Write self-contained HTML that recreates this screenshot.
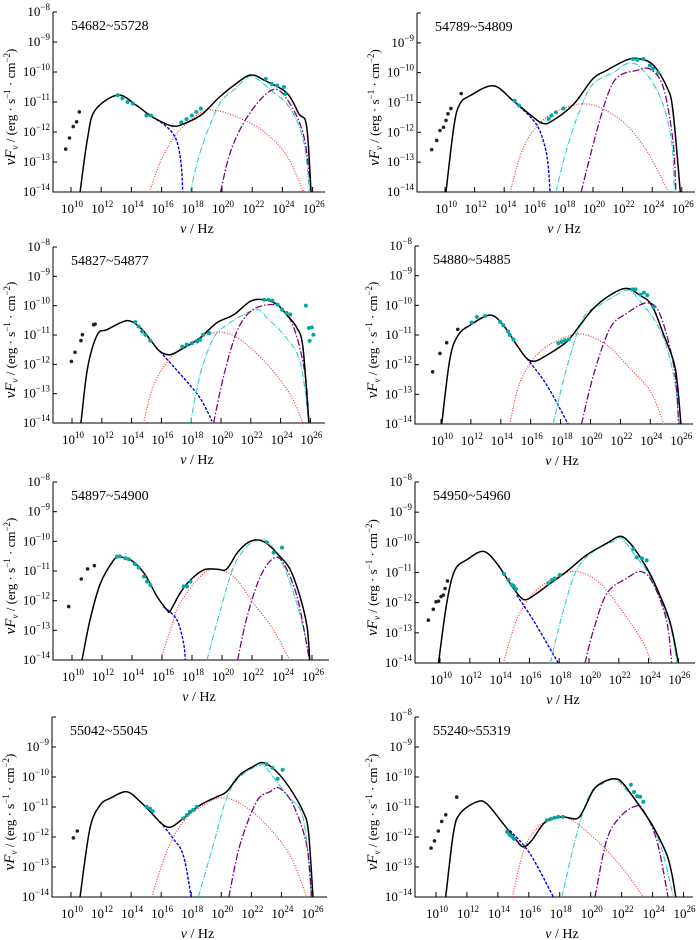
<!DOCTYPE html>
<html><head><meta charset="utf-8">
<style>
html,body{margin:0;padding:0;background:#fff;}
svg{display:block;font-family:"Liberation Serif",serif;}
</style></head>
<body>
<svg id="fig" width="700" height="940" viewBox="0 0 700 940" xmlns="http://www.w3.org/2000/svg"></svg>
<script>
// ---------- data (log10 nu, log10 nuFnu) ----------
const titles = ["54682~55728","54789~54809","54827~54877","54880~54885","54897~54900","54950~54960","55042~55045","55240~55319"];
const yTicks = [-8,-9,-10,-11,-12,-13,-14];
const xTicks = [10,12,14,16,18,20,22,24,26];

const p1Total=[[10.6,-14],[11.1,-12.2],[11.6,-11.27],[13.1,-10.77],[14.3,-11.1],[15.4,-11.5],[16.7,-11.8],[17.6,-11.7],[18.7,-11.4],[19.8,-10.85],[20.9,-10.4],[21.9,-10.1],[22.9,-10.3],[24.3,-10.7],[25.1,-11.4],[25.6,-11.8],[25.9,-14]];
const p1Blue=[[15.4,-11.5],[16.4,-11.85],[17.0,-12.3],[17.3,-13.1],[17.4,-14]];
const p1Red=[[15.2,-14],[16.0,-12.9],[17.1,-12.0],[18.6,-11.35],[19.5,-11.27],[21,-11.5],[22.8,-12.0],[24.3,-12.8],[25.4,-14]];
const p1Cyan=[[17.9,-14],[18.6,-12.6],[19.8,-11.1],[20.9,-10.55],[21.9,-10.15],[23.1,-10.55],[24.5,-11.2],[25.4,-12.3],[25.8,-14]];
const p1Purple=[[19.9,-14],[20.6,-12.6],[21.8,-11.4],[23.3,-10.6],[24.3,-10.9],[25.4,-12.1],[25.9,-14]];
const p1Radio=[[9.65,-12.57],[9.9,-12.2],[10.15,-11.82],[10.37,-11.66],[10.55,-11.33]];
const p1Obs=[[13.1,-10.77],[13.4,-10.88],[13.75,-11.0],[14.1,-11.05],[15.0,-11.45],[15.3,-11.45],[17.3,-11.68],[17.65,-11.57],[18.0,-11.45],[18.3,-11.33],[18.6,-11.22],[22.9,-10.23],[23.3,-10.4],[23.65,-10.45],[24.1,-10.5],[24.2,-10.73]];

const p2Total=[[10.07,-14],[10.6,-11.8],[11.0,-11.05],[11.7,-10.77],[13.27,-10.44],[14.6,-10.94],[15.7,-11.39],[16.6,-11.7],[17.3,-11.6],[18.7,-11.05],[20.0,-10.2],[20.9,-9.93],[22.3,-9.57],[23.2,-9.54],[24.1,-9.76],[25.0,-10.49],[25.4,-11.27],[25.9,-14]];
const p2Blue=[[14.6,-10.94],[15.7,-11.45],[16.4,-11.94],[16.9,-12.83],[17.1,-14]];
const p2Red=[[14.4,-14],[15.3,-12.5],[16.6,-11.6],[18.2,-11.16],[19.6,-11.05],[20.9,-11.27],[22.3,-11.77],[23.6,-12.6],[24.5,-13.4],[25.1,-14]];
const p2Cyan=[[17.5,-14],[18.2,-12.6],[19.1,-11.27],[20.0,-10.38],[21.4,-9.99],[22.3,-9.7],[23.2,-9.82],[24.5,-10.77],[25.3,-12.27],[25.5,-14]];
const p2Purple=[[19.2,-14],[20.2,-12.05],[21.1,-10.6],[21.8,-10.1],[22.9,-9.93],[23.85,-9.88],[24.75,-10.49],[25.4,-12.27],[25.6,-14]];
const p2Radio=[[9.1,-12.58],[9.44,-12.27],[9.66,-11.94],[9.9,-11.83],[10.07,-11.6],[10.2,-11.38],[10.4,-11.2],[11.1,-10.7]];
const p2Obs=[[14.7,-10.94],[15.0,-11.1],[17.0,-11.55],[17.2,-11.44],[17.5,-11.33],[18.0,-11.2],[22.7,-9.54],[23.0,-9.57],[23.4,-9.54],[23.85,-9.76],[24.05,-9.87],[24.4,-10.0]];

const p3Total=[[10.6,-14],[11.05,-12.12],[11.7,-10.99],[12.35,-10.82],[13.7,-10.51],[14.6,-10.76],[15.25,-11.16],[15.9,-11.56],[16.6,-11.67],[17.5,-11.44],[18.6,-11.1],[19.7,-10.59],[20.85,-10.31],[21.97,-9.85],[22.9,-9.8],[23.8,-9.97],[24.4,-10.31],[25.1,-10.76],[25.5,-11.44],[25.9,-14]];
const p3Blue=[[15.9,-11.56],[17.5,-12.47],[18.6,-13.15],[19.4,-13.94]];
const p3Red=[[14.8,-14],[15.5,-12.69],[16.8,-11.67],[18.6,-11.1],[19.95,-10.9],[21.3,-11.16],[23.1,-12.0],[24.65,-13.03],[25.5,-14]];
const p3Cyan=[[17.95,-14],[18.6,-12.35],[19.5,-11.1],[20.4,-10.65],[21.5,-10.31],[22.5,-10.14],[23.1,-10.42],[24.2,-10.99],[25.3,-11.9],[25.9,-14]];
const p3Purple=[[19.5,-14],[20.2,-12.35],[21.07,-10.88],[21.97,-10.2],[23.1,-9.97],[24.0,-10.08],[24.9,-10.76],[25.65,-12.35],[25.9,-14]];
const p3Radio=[[9.96,-11.9],[10.2,-11.59],[10.6,-11.19],[10.7,-10.99],[11.45,-10.65],[11.55,-10.63]];
const p3Obs=[[14.25,-10.56],[14.47,-10.71],[14.7,-10.88],[14.92,-10.99],[15.25,-11.19],[17.4,-11.39],[17.7,-11.33],[18.05,-11.28],[18.4,-11.22],[18.6,-11.16],[18.8,-10.99],[19.2,-10.93],[22.9,-9.8],[23.2,-9.8],[23.45,-9.83],[23.8,-9.97],[24.1,-10.14],[24.4,-10.25],[24.65,-10.3],[25.7,-10.0],[25.9,-10.76],[26.1,-10.74],[26.2,-10.99],[25.95,-11.2]];

const p4Total=[[10.05,-14],[10.6,-11.79],[11.16,-11.0],[11.94,-10.67],[13.28,-10.33],[14.17,-10.67],[15.07,-11.34],[15.74,-11.79],[16.3,-11.88],[17.08,-11.68],[18.4,-11.23],[19.3,-10.67],[20.2,-10.1],[21.3,-9.66],[22.4,-9.43],[23.3,-9.66],[24.1,-10.0],[24.9,-11.0],[25.67,-12.13],[26.05,-14]];
const p4Blue=[[15.74,-11.79],[17.08,-12.69],[18.5,-14]];
const p4Red=[[14.6,-14],[15.3,-12.57],[16.63,-11.56],[18.4,-11.06],[19.53,-10.98],[21.1,-11.34],[22.4,-12.0],[24.0,-12.9],[24.9,-14]];
const p4Cyan=[[17.5,-14],[18.4,-12.13],[19.5,-10.44],[20.6,-10.0],[21.7,-9.66],[22.4,-9.49],[23.0,-9.66],[24.67,-10.84],[25.6,-12.46],[25.9,-14]];
const p4Purple=[[19.4,-14],[20.2,-12.35],[21.3,-10.78],[22.4,-10.28],[23.77,-9.92],[24.67,-10.33],[25.6,-12.13],[25.9,-14]];
const p4Radio=[[9.44,-12.24],[9.93,-11.62],[10.38,-11.26],[11.12,-10.81]];
const p4Obs=[[12.05,-10.58],[12.4,-10.39],[12.95,-10.36],[13.96,-10.56],[14.17,-10.67],[14.5,-10.89],[14.6,-11.0],[14.85,-11.15],[17.85,-11.28],[18.07,-11.23],[18.3,-11.18],[18.55,-11.15],[22.8,-9.46],[23.0,-9.46],[23.35,-9.64],[23.57,-9.57],[23.8,-9.66],[24.2,-10.05]];

const p5Total=[[10.67,-14],[11.2,-12.65],[11.9,-11.41],[12.8,-10.62],[13.2,-10.53],[13.9,-10.62],[14.8,-11.07],[15.67,-11.86],[16.33,-12.31],[16.55,-12.34],[17.2,-11.75],[17.9,-11.3],[18.8,-10.96],[19.67,-10.94],[20.3,-10.94],[21.0,-10.4],[21.67,-10.06],[22.3,-9.95],[23.0,-10.08],[23.9,-10.53],[24.55,-10.96],[25.2,-11.86],[25.67,-12.88],[25.85,-14]];
const p5Blue=[[16.1,-12.2],[17.0,-12.65],[17.44,-13.44],[17.55,-14]];
const p5Red=[[15.9,-14],[16.55,-12.99],[17.2,-12.09],[18.55,-11.19],[19.45,-10.94],[20.78,-11.19],[22.1,-12.09],[23.44,-12.99],[24.5,-14]];
const p5Cyan=[[19.0,-14],[19.9,-12.31],[20.78,-10.85],[21.67,-10.17],[22.3,-9.97],[23.0,-10.0],[23.9,-10.62],[24.78,-11.75],[25.56,-13.21],[25.78,-14]];
const p5Purple=[[21.04,-14],[21.67,-12.54],[22.55,-11.19],[23.44,-10.57],[24.1,-10.74],[25.0,-11.86],[25.67,-13.55],[25.8,-14]];
const p5Radio=[[9.78,-12.2],[10.62,-11.27],[11.04,-10.93],[11.49,-10.82]];
const p5Obs=[[13.0,-10.51],[13.2,-10.51],[13.55,-10.57],[13.78,-10.6],[14.2,-10.77],[14.44,-10.88],[14.8,-11.19],[15.0,-11.36],[15.22,-11.47],[17.44,-11.52],[17.67,-11.52],[17.9,-11.36],[23.0,-10.04],[23.44,-10.38],[24.0,-10.21]];

const p6Total=[[9.9,-14],[10.45,-12.02],[11.0,-10.92],[11.8,-10.58],[12.9,-10.3],[13.8,-10.69],[14.7,-11.36],[15.37,-11.8],[15.8,-11.9],[16.5,-11.69],[17.4,-11.36],[18.5,-10.97],[19.84,-10.42],[21.2,-10.03],[22.1,-9.8],[22.75,-10.03],[23.4,-10.47],[24.3,-11.25],[25.4,-12.58],[26.0,-14]];
const p6Blue=[[15.15,-11.75],[16.26,-12.58],[17.94,-14]];
const p6Red=[[14.25,-14],[15.15,-12.58],[16.26,-11.69],[17.83,-11.14],[19.17,-10.97],[20.74,-11.36],[22.5,-12.47],[23.65,-13.35],[24.2,-14]];
const p6Cyan=[[17.4,-14],[18.28,-12.25],[19.17,-10.92],[20.3,-10.3],[21.63,-9.97],[22.2,-9.86],[22.97,-10.36],[24.1,-11.14],[25.4,-12.69],[25.9,-14]];
const p6Purple=[[19.73,-14],[20.3,-12.91],[21.2,-11.69],[22.53,-11.19],[23.5,-10.97],[24.3,-11.36],[25.2,-12.58],[25.55,-14]];
const p6Radio=[[9.22,-12.58],[9.55,-12.22],[9.73,-11.97],[9.9,-11.95],[10.07,-11.8],[10.22,-11.75],[10.34,-11.53],[10.5,-11.28]];
const p6Obs=[[14.3,-11.05],[14.6,-11.25],[14.8,-11.4],[14.95,-11.45],[15.1,-11.55],[17.27,-11.36],[17.5,-11.25],[17.7,-11.2],[18.05,-11.08],[22.97,-10.22],[23.2,-10.5],[23.55,-10.53],[23.87,-10.6]];

const p7Total=[[10.6,-14],[11.26,-11.72],[11.93,-10.94],[12.6,-10.71],[13.7,-10.49],[14.6,-10.82],[15.48,-11.27],[16.14,-11.6],[16.7,-11.66],[17.47,-11.38],[18.58,-10.94],[19.7,-10.66],[20.35,-10.49],[21.24,-9.93],[22.13,-9.65],[22.8,-9.52],[23.68,-9.82],[24.57,-10.38],[25.45,-11.16],[25.8,-11.83],[26.1,-14]];
const p7Blue=[[15.92,-11.49],[16.8,-12.05],[17.47,-12.61],[18.0,-14]];
const p7Red=[[15.37,-14],[16.36,-12.5],[17.47,-11.49],[19.0,-10.88],[20.13,-10.69],[21.46,-10.94],[23.0,-11.6],[24.57,-12.61],[25.68,-14]];
const p7Cyan=[[18.47,-14],[19.47,-12.27],[20.35,-10.71],[21.24,-9.99],[22.57,-9.6],[23.0,-9.71],[24.35,-10.6],[25.45,-11.38],[26.0,-14]];
const p7Purple=[[20.5,-14],[21.24,-12.27],[22.35,-10.82],[23.24,-10.49],[23.9,-10.38],[24.79,-10.94],[25.68,-12.27],[26.0,-14]];
const p7Radio=[[10.16,-12.03],[10.42,-11.8]];
const p7Obs=[[15.03,-10.99],[15.25,-11.05],[15.43,-11.14],[17.47,-11.38],[17.7,-11.27],[17.9,-11.16],[18.13,-11.1],[18.36,-10.99],[23.0,-9.57],[23.4,-9.69],[23.75,-10.06],[24.08,-9.76]];

const p8Total=[[10.63,-14],[11.12,-11.89],[11.55,-11.22],[12.63,-10.83],[13.28,-10.89],[14.35,-11.56],[15.2,-12.11],[15.65,-12.33],[16.2,-12.11],[16.94,-11.56],[17.59,-11.39],[18.23,-11.33],[19.1,-11.39],[19.53,-11.11],[20.17,-10.44],[20.8,-10.17],[21.57,-10.06],[22.1,-10.22],[23.2,-11.0],[24.05,-11.67],[24.9,-12.56],[25.24,-13.22],[25.5,-14]];
const p8Blue=[[14.78,-11.78],[16.08,-12.56],[17.59,-14]];
const p8Red=[[14.94,-14],[15.54,-12.67],[16.08,-12.0],[17.16,-11.44],[18.45,-11.36],[19.53,-11.72],[21.03,-12.44],[22.33,-13.22],[23.4,-14]];
const p8Cyan=[[18.13,-14],[19.1,-11.89],[19.96,-10.56],[20.8,-10.22],[21.57,-10.08],[22.33,-10.44],[23.4,-11.11],[24.48,-12.22],[25.35,-14]];
const p8Purple=[[20.28,-14],[21.03,-12.11],[21.9,-11.33],[22.87,-10.98],[23.4,-11.11],[24.27,-12.11],[25.0,-14]];
const p8Radio=[[9.68,-12.37],[9.9,-12.13],[10.15,-11.8],[10.37,-11.48],[10.63,-11.26],[11.34,-10.67]];
const p8Obs=[[14.6,-11.83],[14.75,-11.93],[14.9,-11.98],[15.04,-12.06],[17.16,-11.44],[17.4,-11.4],[17.65,-11.36],[17.9,-11.33],[18.2,-11.33],[22.6,-10.26],[22.8,-10.5],[23.0,-10.64],[23.2,-10.66],[23.4,-10.83]];

const totals=[p1Total,p2Total,p3Total,p4Total,p5Total,p6Total,p7Total,p8Total];
const blues=[p1Blue,p2Blue,p3Blue,p4Blue,p5Blue,p6Blue,p7Blue,p8Blue];
const reds=[p1Red,p2Red,p3Red,p4Red,p5Red,p6Red,p7Red,p8Red];
const cyans=[p1Cyan,p2Cyan,p3Cyan,p4Cyan,p5Cyan,p6Cyan,p7Cyan,p8Cyan];
const purples=[p1Purple,p2Purple,p3Purple,p4Purple,p5Purple,p6Purple,p7Purple,p8Purple];
const radios=[p1Radio,p2Radio,p3Radio,p4Radio,p5Radio,p6Radio,p7Radio,p8Radio];
const obs=[p1Obs,p2Obs,p3Obs,p4Obs,p5Obs,p6Obs,p7Obs,p8Obs];
const showTop=[true,false,true,true,true,true,false,true];

// ---------- layout ----------
const geo=[
 {ax:53,top:12,bot:192,x10:71,dec:15.1,right:325},
 {ax:417,top:13,bot:192,x10:445,dec:14.8,right:695},
 {ax:53,top:247,bot:423,x10:72,dec:14.9,right:325},
 {ax:415,top:246,bot:424,x10:441,dec:14.95,right:693},
 {ax:53,top:482,bot:660,x10:72,dec:15,right:329},
 {ax:415,top:482,bot:663,x10:440,dec:14.9,right:695},
 {ax:52,top:717,bot:897,x10:71,dec:15.03,right:327},
 {ax:415,top:717,bot:897,x10:436,dec:15.47,right:693}];

const NS="http://www.w3.org/2000/svg";
const svg=document.getElementById('fig');
function mk(tag,attrs,parent){const e=document.createElementNS(NS,tag);for(const k in attrs)e.setAttribute(k,attrs[k]);(parent||svg).appendChild(e);return e;}

function smoothPath(pts){
  if(pts.length<2)return "";
  let d="M"+pts[0][0].toFixed(1)+","+pts[0][1].toFixed(1);
  for(let i=0;i<pts.length-1;i++){
    const p0=pts[i-1]||pts[i],p1=pts[i],p2=pts[i+1],p3=pts[i+2]||p2;
    const c1=[p1[0]+(p2[0]-p0[0])/6,p1[1]+(p2[1]-p0[1])/6];
    const c2=[p2[0]-(p3[0]-p1[0])/6,p2[1]-(p3[1]-p1[1])/6];
    d+="C"+c1[0].toFixed(1)+","+c1[1].toFixed(1)+" "+c2[0].toFixed(1)+","+c2[1].toFixed(1)+" "+p2[0].toFixed(1)+","+p2[1].toFixed(1);
  }
  return d;
}

for(let i=0;i<8;i++){
  const g=geo[i];
  const xS=v=>g.x10+(v-10)*g.dec;
  const yS=v=>g.top+(-8-v)*(g.bot-g.top)/6;
  const grp=mk('g',{});
  
  
  const cp=mk('clipPath',{id:'cp'+i},grp);
  mk('rect',{x:g.ax,y:g.top-2,width:g.right-g.ax,height:g.bot-g.top+2},cp);
  const axes=mk('path',{d:`M${g.ax},${g.top}V${g.bot}H${g.right}`,stroke:'#000','stroke-width':1,fill:'none'},grp);
  
  
  yTicks.forEach(t=>{
    const y=yS(t);
    mk('line',{x1:g.ax,x2:g.ax+4,y1:y,y2:y,stroke:'#000','stroke-width':1},grp);
    if(t===-8&&!showTop[i])return;
    const tx=mk('text',{x:g.ax-3,y:y+4,'font-size':13,'text-anchor':'end'},grp);
    
    
    tx.innerHTML='10<tspan font-size="9" dy="-6">'+(t<0?'\u2212'+(-t):t)+'</tspan>';
  });
  xTicks.forEach(t=>{
    const x=xS(t);
    mk('line',{x1:x,x2:x,y1:g.bot,y2:g.bot-5,stroke:'#000','stroke-width':1},grp);
    const tx=mk('text',{x:x+1,y:g.bot+21,'font-size':13,'text-anchor':'middle'},grp);
    
    
    tx.innerHTML='10<tspan font-size="9" dy="-6">'+t+'</tspan>';
  });
  const xl=mk('text',{x:(g.ax+g.right)/2+8,y:g.bot+41,'font-size':14,'text-anchor':'middle'},grp);
  
  
  xl.innerHTML='<tspan font-style="italic">v</tspan> / Hz';
  const cy=(g.top+g.bot)/2+5, cx=g.ax-38;
  const yl=mk('text',{x:cx,y:cy,'font-size':13,'text-anchor':'middle',transform:`rotate(-90 ${cx} ${cy})`},grp);
  
  
  yl.innerHTML='<tspan font-style="italic" font-size="15">vF</tspan><tspan font-style="italic" font-size="9" dy="3">v</tspan><tspan dy="-3"> / (erg · s</tspan><tspan font-size="9" dy="-5">−1</tspan><tspan dy="5"> · cm</tspan><tspan font-size="9" dy="-5">−2</tspan><tspan dy="5">)</tspan>';
  const tt=mk('text',{x:g.ax+18,y:g.top+18,'font-size':14},grp);
  
  
  tt.textContent=titles[i];
  const plot=mk('g',{'clip-path':`url(#cp${i})`},grp);
  const toPx=arr=>arr.map(p=>[xS(p[0]),yS(p[1])]);
  const curves=[
    [reds[i],'#ff3333','1.2','1 1.6','red-dotted-component'],
    [blues[i],'#0000ee','1.4','3 1.5','blue-dashed-synchrotron'],
    [cyans[i],'#33cccc','1.1','6 1.5 1 1.5','cyan-dashdot-component'],
    [purples[i],'#800080','1.3','7 2 1.5 2','purple-dashdot-component'],
    [totals[i],'#000','1.5','','total-model-curve']];
  curves.forEach(c=>{
    const pth=mk('path',{d:smoothPath(toPx(c[0])),stroke:c[1],'stroke-width':c[2],fill:'none','stroke-dasharray':c[3]||'none'},plot);
    
    
  });
  radios[i].forEach(p=>{
    const c=mk('circle',{cx:xS(p[0]),cy:yS(p[1]),r:1.8,fill:'#222'},plot);
    
    
  });
  obs[i].forEach(p=>{
    const c=mk('circle',{cx:xS(p[0]),cy:yS(p[1]),r:2,fill:'#00a8a8'},plot);
    
    
  });
}
</script>
</body></html>
